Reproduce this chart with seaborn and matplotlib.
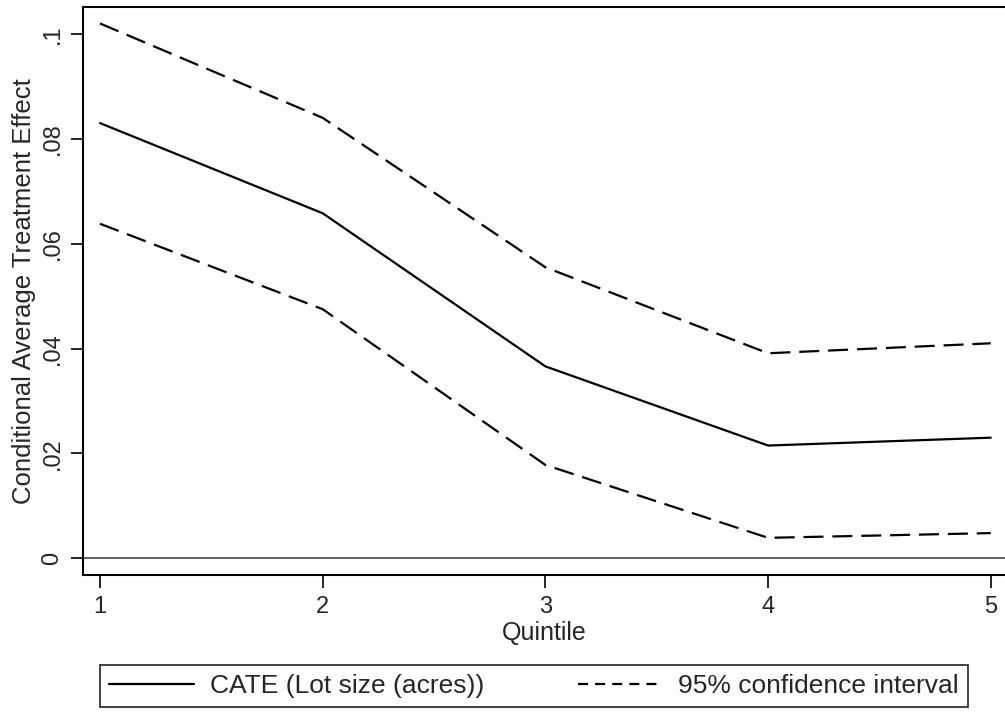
import numpy as np
import pandas as pd
import matplotlib
matplotlib.use("Agg")
import matplotlib.pyplot as plt
import seaborn as sns

# ===== data =====
quintile = [1, 2, 3, 4, 5]
cate     = [0.0830, 0.0658, 0.0366, 0.0215, 0.0230]
ci_upper = [0.1020, 0.0840, 0.0555, 0.0391, 0.0410]
ci_lower = [0.0638, 0.0475, 0.0178, 0.0039, 0.0048]

y_ticks  = [0, 0.02, 0.04, 0.06, 0.08, 0.1]
y_labels = ["0", ".02", ".04", ".06", ".08", ".1"]

sns.set_style("ticks")
plt.rcParams["font.family"] = ["Liberation Sans", "DejaVu Sans"]

df = pd.DataFrame({"q": quintile, "cate": cate, "hi": ci_upper, "lo": ci_lower})

fig = plt.figure(figsize=(10.05, 7.13), dpi=100)
ax = fig.add_axes([83/1005, 1 - 575/713, 922/1005, 568/713])

DASH = (0, (9, 4))
LW = 1.6

ax.axhline(0, color="#555555", lw=1.3, zorder=1)
sns.lineplot(data=df, x="q", y="cate", ax=ax, color="black", lw=LW,
             label="CATE (Lot size (acres))")
sns.lineplot(data=df, x="q", y="hi", ax=ax, color="black", lw=LW,
             linestyle=DASH, label="95% confidence interval")
sns.lineplot(data=df, x="q", y="lo", ax=ax, color="black", lw=LW,
             linestyle=DASH, label="_nolegend_")

ax.set_xlim(0.9237, 5.064)
ax.set_ylim(-0.00319, 0.10514)
ax.set_xticks(quintile)
ax.set_xticklabels([str(q) for q in quintile], fontsize=17)
ax.set_yticks(y_ticks)
ax.set_yticklabels(y_labels, rotation=90, va="center", fontsize=17)
ax.tick_params(axis="both", length=9, width=1.2, color="black")
ax.tick_params(axis="x", pad=6)
ax.tick_params(axis="y", pad=5)

ax.set_xlabel("Quintile", fontsize=18, labelpad=2)
ax.set_ylabel("Conditional Average Treatment Effect", fontsize=18.5, labelpad=4)

for s in ["left", "bottom", "top"]:
    ax.spines[s].set_linewidth(1.5)
    ax.spines[s].set_color("black")
ax.spines["right"].set_visible(False)

handles, labels = ax.get_legend_handles_labels()
ax.get_legend().remove()
leg = fig.legend(handles, labels, ncol=2, mode="expand", loc="center",
                 bbox_to_anchor=(100/1005, 1 - 711/713, 868/1005, 50/713),
                 borderaxespad=0, fontsize=19, frameon=True, fancybox=False,
                 edgecolor="black", handlelength=3.2, handletextpad=0.6,
                 columnspacing=1.0, borderpad=0.35)
leg.get_frame().set_linewidth(1.3)
leg.get_lines()[1].set_linestyle((0, (4.5, 3.2)))

fig.savefig("out.png", dpi=100)
